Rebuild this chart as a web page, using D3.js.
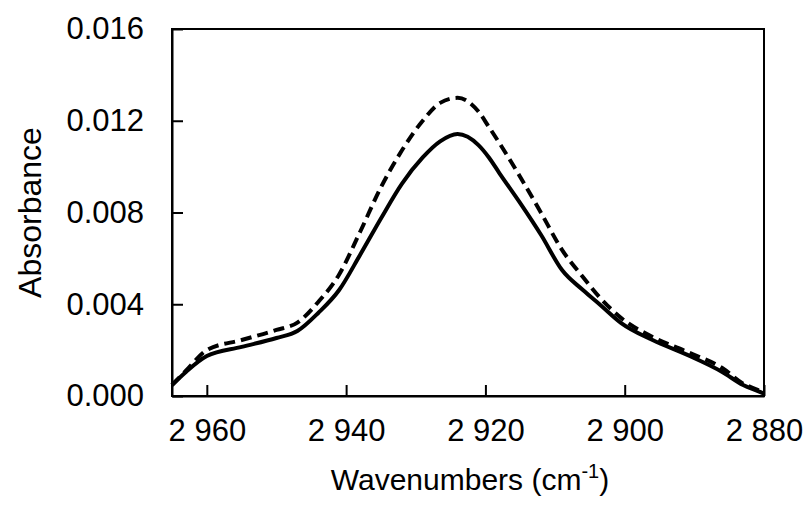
<!DOCTYPE html>
<html>
<head>
<meta charset="utf-8">
<script src="https://cdn.jsdelivr.net/npm/d3@7"></script>
<style>
  body { margin: 0; background: #fff; }
  text { font-family: "Liberation Sans", Arial, sans-serif; fill: #000; }
</style>
</head>
<body>
<svg width="806" height="513"></svg>
<script>
const margin = { top: 29, right: 42, bottom: 117, left: 172 };
const width = 806 - margin.left - margin.right;
const height = 513 - margin.top - margin.bottom;

// wavenumbers (cm-1), shared by both spectra
const wavenumbers = [2965, 2963, 2960, 2955, 2950, 2947, 2944, 2941, 2938, 2935, 2932, 2929, 2926.5, 2924, 2921, 2919.5, 2918, 2915, 2912, 2909, 2906, 2903.5, 2900.5, 2896, 2891, 2886, 2883, 2880.5, 2880];
const solidSeries = [0.00048, 0.00105, 0.00174, 0.00214, 0.00253, 0.00283, 0.00362, 0.00462, 0.00615, 0.00774, 0.00925, 0.0104, 0.0111, 0.01142, 0.01094, 0.0104, 0.00972, 0.00841, 0.00702, 0.00549, 0.00462, 0.00397, 0.00318, 0.00244, 0.00179, 0.00105, 0.00048, 0.00017, 0.0001];
const dashedSeries = [0.00048, 0.0011, 0.002, 0.00244, 0.00288, 0.0032, 0.0041, 0.0053, 0.00715, 0.0091, 0.0107, 0.012, 0.01278, 0.013, 0.0124, 0.01173, 0.01103, 0.00955, 0.00798, 0.00637, 0.00519, 0.00427, 0.0034, 0.00257, 0.00192, 0.00122, 0.00054, 0.0002, 0.0001];
const xTicks = [2960, 2940, 2920, 2900, 2880];
const yTicks = [0, 0.004, 0.008, 0.012, 0.016];

const svg = d3.select('svg')
  .append('g')
  .attr('transform', `translate(${margin.left},${margin.top})`);

const x = d3.scaleLinear().domain([2965, 2880]).range([0, width]);
const y = d3.scaleLinear().domain([0, 0.016]).range([height, 0]);

// frame
svg.append('rect')
  .attr('width', width)
  .attr('height', height)
  .attr('fill', 'none')
  .attr('stroke', '#000')
  .attr('stroke-width', 2);

const xAxis = svg.append('g')
  .attr('transform', `translate(0,${height})`)
  .call(d3.axisBottom(x).tickValues(xTicks).tickSizeInner(-11).tickSizeOuter(0).tickPadding(23)
    .tickFormat(d => d3.format(',')(d).replace(',', ' ')));

const yAxis = svg.append('g')
  .call(d3.axisLeft(y).tickValues(yTicks).tickSizeInner(-11).tickSizeOuter(0).tickPadding(28)
    .tickFormat(d3.format('.3f')));

[xAxis, yAxis].forEach(a => {
  a.select('.domain').attr('stroke', '#000').attr('stroke-width', 2);
  a.selectAll('.tick line').attr('stroke', '#000').attr('stroke-width', 2);
  a.selectAll('.tick text').attr('font-size', 31).attr('font-family', '"Liberation Sans", Arial, sans-serif').attr('fill', '#000');
});

const line = series => d3.line()
  .x((d, i) => x(wavenumbers[i]))
  .y(d => y(d))
  .curve(d3.curveMonotoneX)(series);

svg.append('path')
  .attr('d', line(dashedSeries))
  .attr('fill', 'none')
  .attr('stroke', '#000')
  .attr('stroke-width', 4)
  .attr('stroke-dasharray', '11,6');

svg.append('path')
  .attr('d', line(solidSeries))
  .attr('fill', 'none')
  .attr('stroke', '#000')
  .attr('stroke-width', 4);

// axis titles
const xTitle = svg.append('text')
  .attr('x', width / 2 + 2)
  .attr('y', height + 94)
  .attr('text-anchor', 'middle')
  .attr('font-size', 30);
xTitle.append('tspan').text('Wavenumbers (cm');
xTitle.append('tspan').text('-1').attr('font-size', 20).attr('dy', -12);
xTitle.append('tspan').text(')').attr('dy', 12);

svg.append('text')
  .attr('transform', `translate(${-131},${height / 2}) rotate(-90)`)
  .attr('text-anchor', 'middle')
  .attr('font-size', 32)
  .text('Absorbance');
</script>
</body>
</html>
